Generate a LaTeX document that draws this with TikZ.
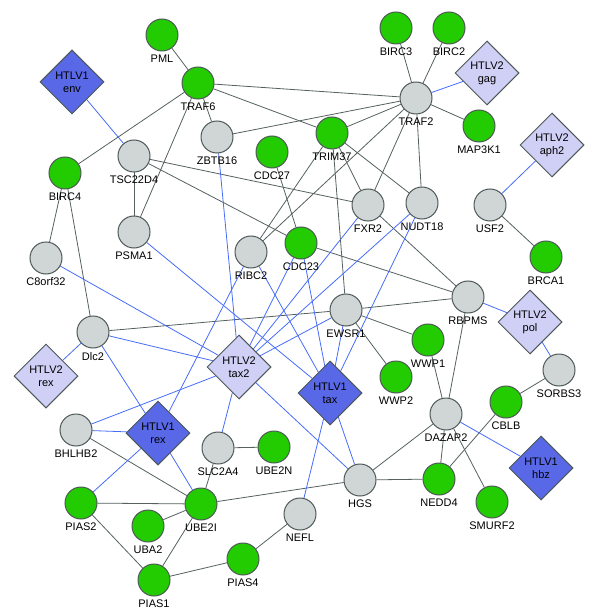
\documentclass[tikz,border=0pt]{standalone}
\usepackage{fontspec}
\setmainfont{Liberation Sans}
\usetikzlibrary{shapes.geometric, backgrounds}

\definecolor{genegreen}{RGB}{34,204,0}
\definecolor{genegray}{RGB}{208,213,213}
\definecolor{nodeedge}{RGB}{78,88,88}
\definecolor{htlvonefill}{RGB}{88,104,230}
\definecolor{htlvtwofill}{RGB}{208,208,246}
\definecolor{linkgray}{RGB}{85,96,96}
\definecolor{linkblue}{RGB}{70,108,250}

\tikzstyle{gene} = [circle, minimum size=32pt, inner sep=0pt, draw=nodeedge, line width=1pt]
\tikzstyle{greengene} = [gene, fill=genegreen]
\tikzstyle{graygene} = [gene, fill=genegray]
\tikzstyle{viral} = [diamond, minimum size=64pt, inner sep=0pt, draw=nodeedge, line width=1pt, align=center]
\tikzstyle{htlvone} = [viral, fill=htlvonefill]
\tikzstyle{htlvtwo} = [viral, fill=htlvtwofill]
\tikzstyle{link} = [draw=linkgray, line width=0.8pt]
\tikzstyle{viruslink} = [draw=linkblue, line width=0.8pt]

\begin{document}
\begin{tikzpicture}[x=1pt, y=-1pt, font=\fontsize{11}{13}\selectfont]
\useasboundingbox (0,0) rectangle (600,612);

% Human proteins (green)
\node (pml) [greengene, label=below:PML] at (162,35) {};
\node (traf6) [greengene, label=below:TRAF6] at (198,83) {};
\node (birc3) [greengene, label=below:BIRC3] at (396,28) {};
\node (birc2) [greengene, label=below:BIRC2] at (449,28) {};
\node (map3k1) [greengene, label=below:MAP3K1] at (479,126) {};
\node (trim37) [greengene, label=below:TRIM37] at (332,133) {};
\node (cdc27) [greengene, label=below:CDC27] at (272,152) {};
\node (birc4) [greengene, label=below:BIRC4] at (65,173) {};
\node (cdc23) [greengene, label=below:CDC23] at (301,243) {};
\node (brca1) [greengene, label=below:BRCA1] at (546,257) {};
\node (wwp1) [greengene, label=below:WWP1] at (428,340) {};
\node (wwp2) [greengene, label=below:WWP2] at (396,377) {};
\node (cblb) [greengene, label=below:CBLB] at (506,402) {};
\node (ube2n) [greengene, label=below:UBE2N] at (274,447) {};
\node (nedd4) [greengene, label=below:NEDD4] at (439,479) {};
\node (smurf2) [greengene, label=below:SMURF2] at (492,502) {};
\node (pias2) [greengene, label=below:PIAS2] at (81,503) {};
\node (ube2i) [greengene, label=below:UBE2I] at (201,504) {};
\node (uba2) [greengene, label=below:UBA2] at (148,526) {};
\node (pias4) [greengene, label=below:PIAS4] at (243,559) {};
\node (pias1) [greengene, label=below:PIAS1] at (154,580) {};

% Human proteins (gray)
\node (traf2) [graygene, label=below:TRAF2] at (416,98) {};
\node (zbtb16) [graygene, label=below:ZBTB16] at (217,137) {};
\node (tsc22d4) [graygene, label=below:TSC22D4] at (134,156) {};
\node (psma1) [graygene, label=below:PSMA1] at (134,232) {};
\node (c8orf32) [graygene, label=below:C8orf32] at (46,258) {};
\node (ribc2) [graygene, label=below:RIBC2] at (251,252) {};
\node (fxr2) [graygene, label=below:FXR2] at (368,205) {};
\node (nudt18) [graygene, label=below:NUDT18] at (422,203) {};
\node (usf2) [graygene, label=below:USF2] at (490,205) {};
\node (rbpms) [graygene, label=below:RBPMS] at (468,297) {};
\node (ewsr1) [graygene, label=below:EWSR1] at (346,310) {};
\node (dlc2) [graygene, label=below:Dlc2] at (93,332) {};
\node (sorbs3) [graygene, label=below:SORBS3] at (559,370) {};
\node (dazap2) [graygene, label=below:DAZAP2] at (446,414) {};
\node (bhlhb2) [graygene, label=below:BHLHB2] at (76,430) {};
\node (slc2a4) [graygene, label=below:SLC2A4] at (218,448) {};
\node (hgs) [graygene, label=below:HGS] at (360,480) {};
\node (nefl) [graygene, label=below:NEFL] at (300,514) {};

% Viral proteins
\node (htlv1_env) [htlvone] at (72,82) {HTLV1\\env};
\node (htlv2_gag) [htlvtwo] at (487,73) {HTLV2\\gag};
\node (htlv2_aph2) [htlvtwo] at (552,145) {HTLV2\\aph2};
\node (htlv2_rex) [htlvtwo] at (46,376) {HTLV2\\rex};
\node (htlv2_tax2) [htlvtwo] at (239,367) {HTLV2\\tax2};
\node (htlv2_pol) [htlvtwo] at (530,322) {HTLV2\\pol};
\node (htlv1_tax) [htlvone] at (330,393) {HTLV1\\tax};
\node (htlv1_rex) [htlvone] at (158,433) {HTLV1\\rex};
\node (htlv1_hbz) [htlvone] at (541,468) {HTLV1\\hbz};

\begin{scope}[on background layer]
% Host-host interactions
\draw [link] (pml) -- (traf6);
\draw [link] (traf6) -- (birc4);
\draw [link] (traf6) -- (zbtb16);
\draw [link] (traf6) -- (psma1);
\draw [link] (traf6) -- (traf2);
\draw [link] (traf6) -- (trim37);
\draw [link] (traf2) -- (birc3);
\draw [link] (traf2) -- (birc2);
\draw [link] (traf2) -- (map3k1);
\draw [link] (traf2) -- (zbtb16);
\draw [link] (traf2) -- (trim37);
\draw [link] (traf2) -- (ribc2);
\draw [link] (traf2) -- (fxr2);
\draw [link] (traf2) -- (nudt18);
\draw [link] (trim37) -- (fxr2);
\draw [link] (trim37) -- (nudt18);
\draw [link] (trim37) -- (ewsr1);
\draw [link] (trim37) -- (ribc2);
\draw [link] (tsc22d4) -- (psma1);
\draw [link] (tsc22d4) -- (fxr2);
\draw [link] (tsc22d4) -- (cdc23);
\draw [link] (birc4) -- (c8orf32);
\draw [link] (birc4) -- (dlc2);
\draw [link] (cdc27) -- (cdc23);
\draw [link] (cdc23) -- (rbpms);
\draw [link] (fxr2) -- (rbpms);
\draw [link] (dlc2) -- (ewsr1);
\draw [link] (ewsr1) -- (rbpms);
\draw [link] (ewsr1) -- (wwp1);
\draw [link] (ewsr1) -- (wwp2);
\draw [link] (usf2) -- (brca1);
\draw [link] (rbpms) -- (dazap2);
\draw [link] (wwp1) -- (dazap2);
\draw [link] (dazap2) -- (hgs);
\draw [link] (dazap2) -- (nedd4);
\draw [link] (dazap2) -- (smurf2);
\draw [link] (cblb) -- (nedd4);
\draw [link] (cblb) -- (sorbs3);
\draw [link] (hgs) -- (nedd4);
\draw [link] (hgs) -- (ube2i);
\draw [link] (slc2a4) -- (ube2n);
\draw [link] (slc2a4) -- (ube2i);
\draw [link] (bhlhb2) -- (ube2i);
\draw [link] (pias2) -- (ube2i);
\draw [link] (pias2) -- (pias1);
\draw [link] (uba2) -- (ube2i);
\draw [link] (ube2i) -- (pias1);
\draw [link] (pias1) -- (pias4);
\draw [link] (pias4) -- (nefl);

% Virus-host interactions
\draw [viruslink] (htlv1_env) -- (tsc22d4);
\draw [viruslink] (htlv2_gag) -- (traf2);
\draw [viruslink] (htlv2_aph2) -- (usf2);
\draw [viruslink] (htlv2_pol) -- (rbpms);
\draw [viruslink] (htlv2_pol) -- (sorbs3);
\draw [viruslink] (htlv1_hbz) -- (dazap2);
\draw [viruslink] (htlv2_rex) -- (dlc2);
\draw [viruslink] (htlv2_tax2) -- (zbtb16);
\draw [viruslink] (htlv2_tax2) -- (cdc23);
\draw [viruslink] (htlv2_tax2) -- (fxr2);
\draw [viruslink] (htlv2_tax2) -- (nudt18);
\draw [viruslink] (htlv2_tax2) -- (ewsr1);
\draw [viruslink] (htlv2_tax2) -- (c8orf32);
\draw [viruslink] (htlv2_tax2) -- (dlc2);
\draw [viruslink] (htlv2_tax2) -- (bhlhb2);
\draw [viruslink] (htlv2_tax2) -- (slc2a4);
\draw [viruslink] (htlv2_tax2) -- (hgs);
\draw [viruslink] (htlv1_tax) -- (psma1);
\draw [viruslink] (htlv1_tax) -- (ribc2);
\draw [viruslink] (htlv1_tax) -- (cdc23);
\draw [viruslink] (htlv1_tax) -- (ewsr1);
\draw [viruslink] (htlv1_tax) -- (nudt18);
\draw [viruslink] (htlv1_tax) -- (hgs);
\draw [viruslink] (htlv1_tax) -- (nefl);
\draw [viruslink] (htlv1_rex) -- (ribc2);
\draw [viruslink] (htlv1_rex) -- (dlc2);
\draw [viruslink] (htlv1_rex) -- (bhlhb2);
\draw [viruslink] (htlv1_rex) -- (ube2i);
\draw [viruslink] (htlv1_rex) -- (pias2);
\end{scope}

\end{tikzpicture}
\end{document}
